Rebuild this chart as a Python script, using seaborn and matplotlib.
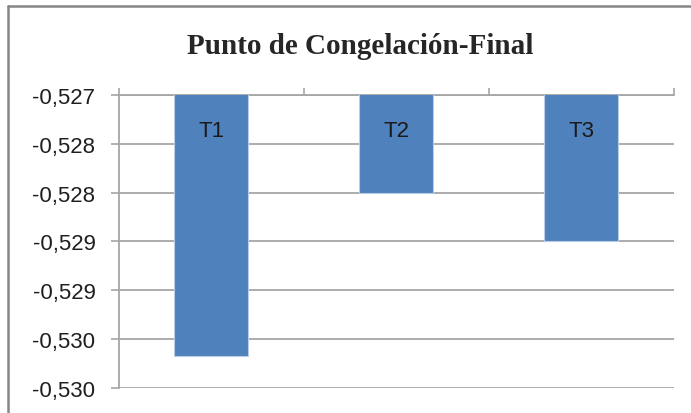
#tratamiento de datos
import numpy as np
import pandas as pd

#visualizaciones
import seaborn as sns
import matplotlib.pyplot as plt
from matplotlib.lines import Line2D

# datos
tratamientos = ['T1', 'T2', 'T3']
punto_congelacion = [-0.52967, -0.52800, -0.52850]
ticks_y = [-0.5270, -0.5275, -0.5280, -0.5285, -0.5290, -0.5295, -0.5300]
etiquetas_y = ['-0,527', '-0,528', '-0,528', '-0,529', '-0,529', '-0,530', '-0,530']
titulo = 'Punto de Congelación-Final'

df = pd.DataFrame({'tratamiento': tratamientos, 'valor': punto_congelacion})

sns.set_style('white')
plt.rcParams['font.family'] = ['Liberation Sans', 'DejaVu Sans']

W, H = 691, 414
fig = plt.figure(figsize=(W / 100, H / 100), dpi=100)
ax = fig.add_axes([119 / W, 1 - 389 / H, 555 / W, 293 / H])

gris = '#A6A6A6'
azul = '#4F81BD'

# barras que cuelgan desde el eje superior (-0,527)
sns.barplot(data=df, x='tratamiento', y='valor', color=azul, saturation=1,
            width=0.4, edgecolor='#B9CDE5', linewidth=0.8, ax=ax, zorder=3)

ax.set_ylim(min(ticks_y), max(ticks_y))
ax.set_xlim(-0.5, len(tratamientos) - 0.5)
ax.set_yticks(ticks_y)
ax.set_yticklabels(etiquetas_y)
ax.yaxis.grid(True, color=gris, linewidth=1.3, zorder=0)
ax.set_axisbelow(True)

# eje de categorias arriba con marcas entre categorias
ax.set_xticks([])
ax.set_xticks(np.arange(-0.5, len(tratamientos)), minor=True)
ax.tick_params(axis='x', which='minor', top=True, bottom=False, direction='out',
               length=5, width=1.2, color=gris, labeltop=False, labelbottom=False)
ax.tick_params(axis='y', left=True, direction='out', length=6, width=1.2,
               color=gris, pad=11, labelsize=16, labelcolor='#1F1F1F')
ax.set_xlabel('')
ax.set_ylabel('')

for s in ['right', 'bottom']:
    ax.spines[s].set_visible(False)
for s in ['left', 'top']:
    ax.spines[s].set_color(gris)
    ax.spines[s].set_linewidth(1.3)

# etiquetas de las barras
for i, t in enumerate(tratamientos):
    ax.text(i, -0.52736, t, ha='center', va='center', fontsize=16,
            color='#1A1A1A', zorder=4)

fig.text(360 / W, 1 - 46 / H, titulo, ha='center', va='center', fontsize=21,
         fontweight='bold', family=['Liberation Serif', 'DejaVu Serif'])

# borde del area del grafico
fig.add_artist(Line2D([8 / W, 8 / W], [0, 1 - 7 / H], transform=fig.transFigure,
                      color='#868686', linewidth=1.8))
fig.add_artist(Line2D([8 / W, 1], [1 - 7 / H, 1 - 7 / H], transform=fig.transFigure,
                      color='#868686', linewidth=1.8))

fig.savefig('out.png', dpi=100, facecolor='white')
